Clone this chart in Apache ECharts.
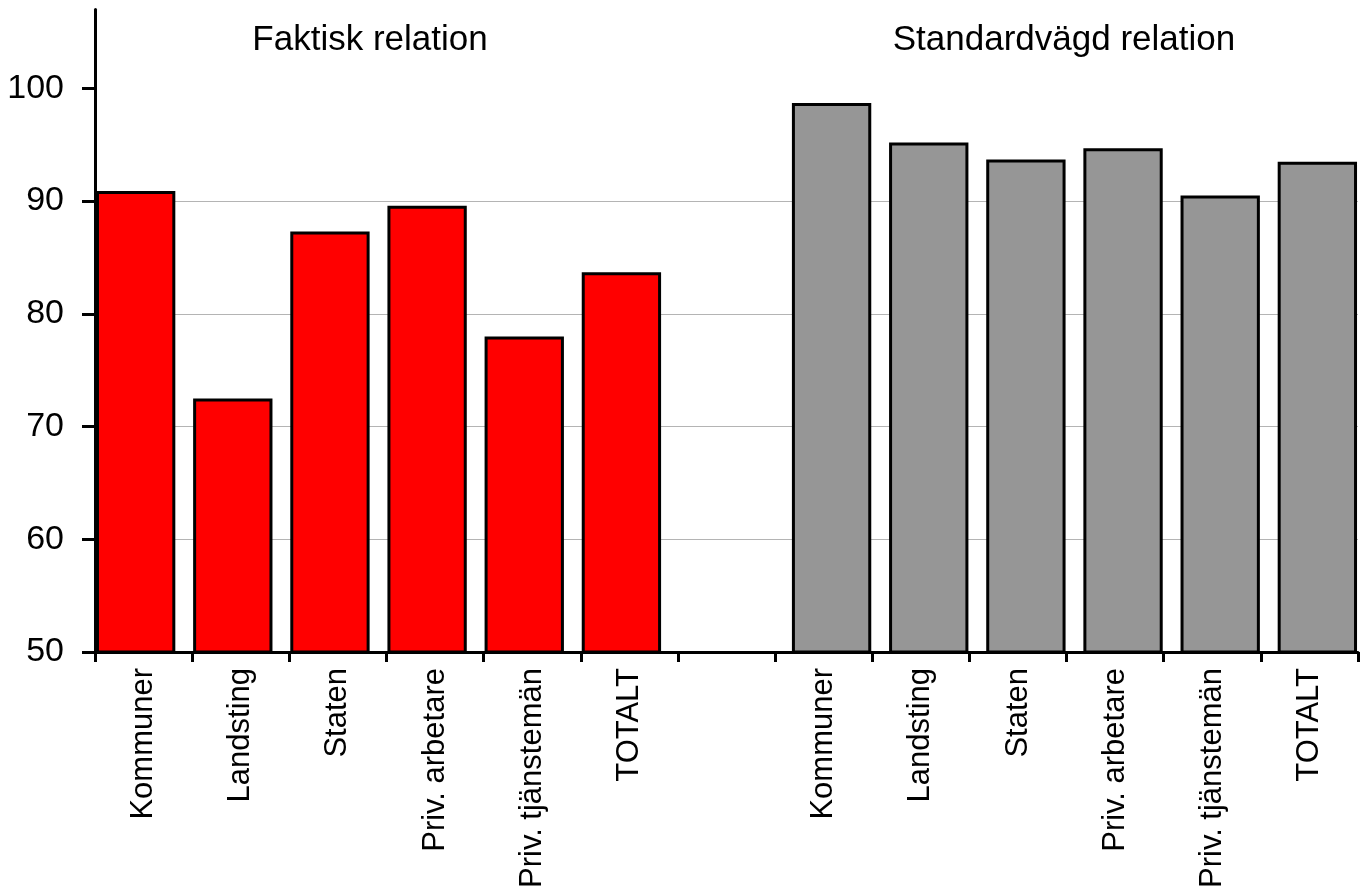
<!DOCTYPE html>
<html>
<head>
<meta charset="utf-8">
<script src="https://cdn.jsdelivr.net/npm/echarts@6/dist/echarts.min.js"></script>
<style>
html,body{margin:0;padding:0;background:#fff;}
#chart{width:1366px;height:896px;}
</style>
</head>
<body>
<div id="chart"></div>
<script>
var groupCategories = ['Kommuner', 'Landsting', 'Staten', 'Priv. arbetare', 'Priv. tjänstemän', 'TOTALT'];
var faktiskValues = [90.9, 72.5, 87.3, 89.6, 78.0, 83.7];
var standardValues = [98.7, 95.2, 93.7, 94.7, 90.5, 93.5];
var yTicks = [50, 60, 70, 80, 90, 100];
var groupTitles = ['Faktisk relation', 'Standardvägd relation'];

var categories = groupCategories.concat(['']).concat(groupCategories);
var pad = groupCategories.map(function () { return null; });
var faktiskData = faktiskValues.concat([null]).concat(pad);
var standardData = pad.concat([null]).concat(standardValues);

var FONT = '"Liberation Sans", Arial, sans-serif';
var chart = echarts.init(document.getElementById('chart'));
chart.setOption({
  backgroundColor: '#ffffff',
  animation: false,
  grid: { left: 95, right: 8, top: 9.5, bottom: 244, containLabel: false },
  graphic: [
    { type: 'text', x: 370, y: 40, style: { text: groupTitles[0], font: '35px ' + FONT, fill: '#000', textAlign: 'center', textVerticalAlign: 'middle' } },
    { type: 'text', x: 1064, y: 40, style: { text: groupTitles[1], font: '35px ' + FONT, fill: '#000', textAlign: 'center', textVerticalAlign: 'middle' } }
  ],
  xAxis: {
    type: 'category',
    data: categories,
    boundaryGap: true,
    axisLine: { show: true, onZero: false, lineStyle: { color: '#000', width: 3 } },
    axisTick: { show: true, length: 10, alignWithLabel: false, interval: 0, lineStyle: { color: '#000', width: 3 } },
    axisLabel: { interval: 0, rotate: 90, margin: 16, color: '#000', fontSize: 31, fontFamily: FONT },
    splitLine: { show: false }
  },
  yAxis: {
    type: 'value',
    min: 50,
    max: 107,
    interval: 10,
    axisLine: { show: true, lineStyle: { color: '#000', width: 3 } },
    axisTick: { show: true, length: 13, customValues: yTicks, lineStyle: { color: '#000', width: 3 } },
    axisLabel: { margin: 31, color: '#000', fontSize: 34, fontFamily: FONT, customValues: yTicks },
    splitLine: { show: true, showMinLine: false, showMaxLine: false, lineStyle: { color: '#b4b4b4', width: 1.2 } }
  },
  series: [
    {
      name: groupTitles[0], type: 'bar', data: faktiskData,
      barCategoryGap: '2%', barGap: '-80%',
      itemStyle: { color: '#ff0000', borderColor: '#000', borderWidth: 3 }
    },
    {
      name: groupTitles[1], type: 'bar', data: standardData,
      barCategoryGap: '2%', barGap: '-80%',
      itemStyle: { color: '#969696', borderColor: '#000', borderWidth: 3 }
    }
  ]
});
</script>
</body>
</html>
